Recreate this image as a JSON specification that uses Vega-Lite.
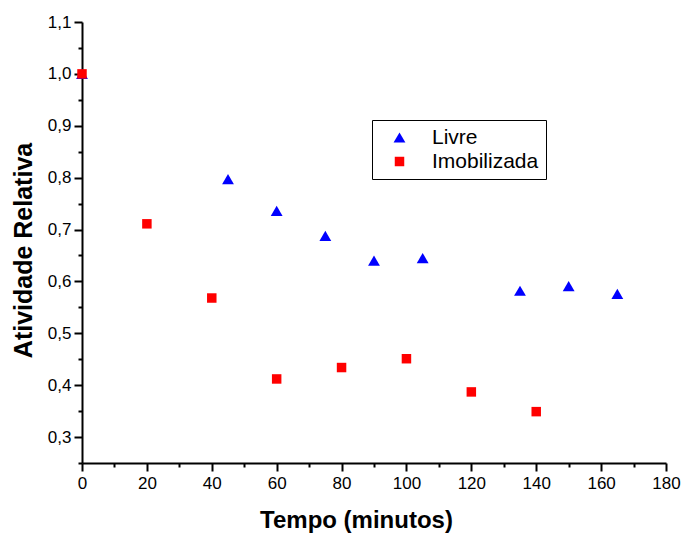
{
  "$schema": "https://vega.github.io/schema/vega-lite/v6.json",
  "autosize": "none",
  "width": 584,
  "height": 441,
  "padding": {"left": 82, "top": 22, "right": 16, "bottom": 71},
  "background": "white",
  "config": {
    "view": {"stroke": null},
    "font": "Liberation Sans",
    "axis": {"grid": false, "domainColor": "black", "domainWidth": 2, "tickColor": "black", "tickWidth": 2, "labelColor": "black", "labelFontSize": 17, "titleColor": "black", "titleFontSize": 24, "titleFontWeight": "bold"}
  },
  "data": {"values": [
    {"tempo": 0, "atividade": 1.0, "serie": "Livre"},
    {"tempo": 45, "atividade": 0.797, "serie": "Livre"},
    {"tempo": 60, "atividade": 0.736, "serie": "Livre"},
    {"tempo": 75, "atividade": 0.688, "serie": "Livre"},
    {"tempo": 90, "atividade": 0.640, "serie": "Livre"},
    {"tempo": 105, "atividade": 0.645, "serie": "Livre"},
    {"tempo": 135, "atividade": 0.582, "serie": "Livre"},
    {"tempo": 150, "atividade": 0.591, "serie": "Livre"},
    {"tempo": 165, "atividade": 0.576, "serie": "Livre"},
    {"tempo": 0, "atividade": 1.0, "serie": "Imobilizada"},
    {"tempo": 20, "atividade": 0.711, "serie": "Imobilizada"},
    {"tempo": 40, "atividade": 0.568, "serie": "Imobilizada"},
    {"tempo": 60, "atividade": 0.412, "serie": "Imobilizada"},
    {"tempo": 80, "atividade": 0.434, "serie": "Imobilizada"},
    {"tempo": 100, "atividade": 0.451, "serie": "Imobilizada"},
    {"tempo": 120, "atividade": 0.387, "serie": "Imobilizada"},
    {"tempo": 140, "atividade": 0.349, "serie": "Imobilizada"}
  ]},
  "mark": {"type": "point", "filled": true, "opacity": 1},
  "encoding": {
    "x": {
      "field": "tempo", "type": "quantitative",
      "scale": {"domain": [0, 180], "nice": false, "zero": false},
      "axis": {
        "title": "Tempo (minutos)", "titlePadding": 17, "titleX": 274, "titleAlign": "center",
        "values": [0,10,20,30,40,50,60,70,80,90,100,110,120,130,140,150,160,170,180],
        "labelExpr": "datum.value % 20 === 0 ? datum.label : ''",
        "tickSize": {"condition": {"test": "datum.value % 20 === 0", "value": 8}, "value": 4},
        "labelPadding": 4, "labelFlush": false, "labelOverlap": false
      }
    },
    "y": {
      "field": "atividade", "type": "quantitative",
      "scale": {"domain": [0.25, 1.1], "nice": false, "zero": false},
      "axis": {
        "title": "Atividade Relativa", "titlePadding": 11, "titleY": 228, "titleAlign": "center", "titleFontSize": 25,
        "values": [0.25,0.3,0.35,0.4,0.45,0.5,0.55,0.6,0.65,0.7,0.75,0.8,0.85,0.9,0.95,1.0,1.05,1.1],
        "labelExpr": "abs(datum.value*10 - round(datum.value*10)) < 0.01 ? replace(format(datum.value, '.1f'), '.', ',') : ''",
        "tickSize": {"condition": {"test": "abs(datum.value*10 - round(datum.value*10)) < 0.01", "value": 8}, "value": 4},
        "labelPadding": 3, "labelFlush": false, "labelOverlap": false
      }
    },
    "shape": {
      "field": "serie", "type": "nominal",
      "scale": {"domain": ["Livre", "Imobilizada"], "range": ["triangle-up", "square"]},
      "legend": {
        "title": null, "orient": "none", "legendX": 290, "legendY": 98,
        "strokeColor": "black", "padding": 7, "labelFontSize": 21, "labelColor": "black",
        "rowPadding": 2, "labelOffset": 22, "symbolOffset": 10,
        "symbolStrokeWidth": 0, "fillColor": "white"
      }
    },
    "size": {
      "field": "serie", "type": "nominal",
      "scale": {"domain": ["Livre", "Imobilizada"], "range": [140, 90]},
      "legend": {
        "title": null, "orient": "none", "legendX": 290, "legendY": 98,
        "strokeColor": "black", "padding": 7, "labelFontSize": 21, "labelColor": "black",
        "rowPadding": 2, "labelOffset": 22, "symbolOffset": 10,
        "symbolStrokeWidth": 0, "fillColor": "white"
      }
    },
    "color": {
      "field": "serie", "type": "nominal",
      "scale": {"domain": ["Livre", "Imobilizada"], "range": ["#0000ff", "#ff0000"]},
      "legend": {
        "title": null, "orient": "none", "legendX": 290, "legendY": 98,
        "strokeColor": "black", "padding": 7, "labelFontSize": 21, "labelColor": "black",
        "rowPadding": 2, "labelOffset": 22, "symbolOffset": 10,
        "symbolStrokeWidth": 0, "fillColor": "white"
      }
    }
  }
}
